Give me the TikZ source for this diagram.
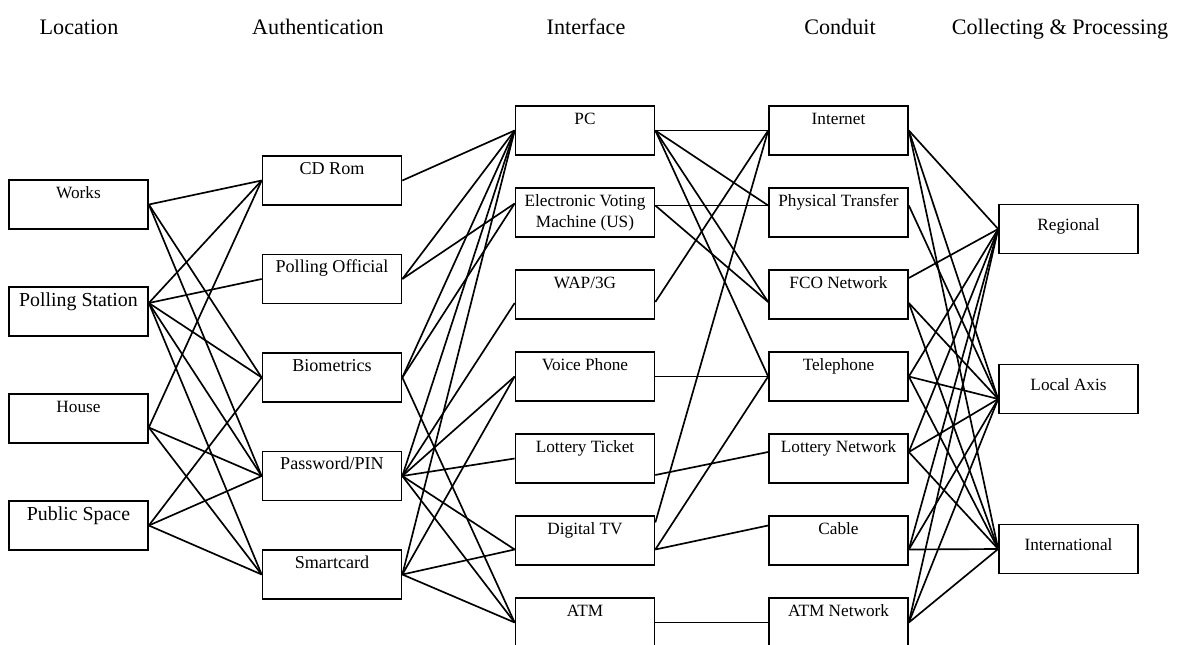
\documentclass[tikz,border=0pt]{standalone}
\usepackage{fontspec}
\setmainfont{Liberation Serif}
\usepackage{tikz}
\usetikzlibrary{positioning}

\begin{document}
\begin{tikzpicture}[-,node distance=1.64cm,line width=0.95pt]
  \tikzstyle{box}=[draw,rectangle,minimum width=2.78cm,minimum height=0.98cm,inner sep=0pt,align=center,text height=0.36cm,text depth=0.62cm,font=\fontsize{9.8}{12}\selectfont]
  \tikzstyle{big}=[font=\fontsize{11.3}{13.5}\selectfont,text height=0.38cm,text depth=0.60cm]
  \tikzstyle{low}=[text height=0.52cm,text depth=0.46cm]
  \tikzstyle{two}=[text height=0.79cm,text depth=0.19cm]
  \tikzstyle{head}=[anchor=base,font=\fontsize{12.6}{15}\selectfont]

  \useasboundingbox (0,0) rectangle (23.66,-12.9);

  \node[head] (HLoc) at (1.58,-0.69) {Location};
  \node[head] (HAuth) at (6.36,-0.69) {Authentication};
  \node[head] (HInt) at (11.72,-0.69) {Interface};
  \node[head] (HCon) at (16.8,-0.69) {Conduit};
  \node[head] (HCol) at (21.2,-0.69) {Collecting \& Processing};

  % location
  \begin{scope}[node distance=2.14cm]
  \node[box] (Works) at (1.57,-4.09) {Works};
  \node[box,big] (Station) [below of=Works] {Polling Station};
  \node[box] (House) [below of=Station] {House};
  \node[box,big] (Public) [below of=House] {Public Space};
  \end{scope}

  % authentication
  \begin{scope}[node distance=1.97cm]
  \node[box,font=\fontsize{10.3}{12.5}\selectfont] (CD) at (6.64,-3.61) {CD Rom};
  \node[box,font=\fontsize{10.3}{12.5}\selectfont] (Official) [below of=CD] {Polling Official};
  \node[box,font=\fontsize{10.3}{12.5}\selectfont] (Bio) [below of=Official] {Biometrics};
  \node[box,font=\fontsize{10.3}{12.5}\selectfont] (PIN) [below of=Bio] {Password/PIN};
  \node[box,font=\fontsize{10.3}{12.5}\selectfont] (Smart) [below of=PIN] {Smartcard};
  \end{scope}

  % interface
  \node[box] (PC) at (11.7,-2.61) {PC};
  \node[box,two] (EVM) [below of=PC] {Electronic Voting\\Machine (US)};
  \node[box] (WAP) [below of=EVM] {WAP/3G};
  \node[box] (Voice) [below of=WAP] {Voice Phone};
  \node[box] (Ticket) [below of=Voice] {Lottery Ticket};
  \node[box] (TV) [below of=Ticket] {Digital TV};
  \node[box] (ATM) [below of=TV] {ATM};

  % conduit
  \node[box] (Internet) at (16.77,-2.61) {Internet};
  \node[box] (Transfer) [below of=Internet] {Physical Transfer};
  \node[box] (FCO) [below of=Transfer] {FCO Network};
  \node[box] (Phone) [below of=FCO] {Telephone};
  \node[box] (LotNet) [below of=Phone] {Lottery Network};
  \node[box] (Cable) [below of=LotNet] {Cable};
  \node[box] (ATMNet) [below of=Cable] {ATM Network};

  % collecting & processing
  \begin{scope}[node distance=3.2cm]
  \node[box,low] (Regional) at (21.37,-4.58) {Regional};
  \node[box,low] (Local) [below of=Regional] {Local Axis};
  \node[box,low] (Intl) [below of=Local] {International};
  \end{scope}

  \path (Works.east) edge (CD.west);
  \path (Works.east) edge (Bio.west);
  \path (Works.east) edge (PIN.west);
  \path ([yshift=0.17cm]Station.east) edge (CD.west);
  \path ([yshift=0.17cm]Station.east) edge (Official.west);
  \path ([yshift=0.17cm]Station.east) edge (Bio.west);
  \path ([yshift=0.17cm]Station.east) edge (PIN.west);
  \path ([yshift=0.17cm]Station.east) edge (Smart.west);
  \path ([yshift=-0.18cm]House.east) edge (CD.west);
  \path ([yshift=-0.18cm]House.east) edge (PIN.west);
  \path ([yshift=-0.18cm]House.east) edge (Smart.west);
  \path (Public.east) edge (Bio.west);
  \path (Public.east) edge (PIN.west);
  \path (Public.east) edge (Smart.west);

  \path (CD.east) edge (PC.west);
  \path (Official.east) edge (PC.west);
  \path (Official.east) edge ([yshift=0.18cm]EVM.west);
  \path (Bio.east) edge (PC.west);
  \path (Bio.east) edge ([yshift=0.18cm]EVM.west);
  \path (Bio.east) edge (ATM.west);
  \path (PIN.east) edge (PC.west);
  \path (PIN.east) edge ([yshift=-0.17cm]WAP.west);
  \path (PIN.east) edge (Voice.west);
  \path (PIN.east) edge (Ticket.west);
  \path (PIN.east) edge ([yshift=-0.18cm]TV.west);
  \path (PIN.east) edge (ATM.west);
  \path (Smart.east) edge (PC.west);
  \path (Smart.east) edge (Voice.west);
  \path (Smart.east) edge ([yshift=-0.18cm]TV.west);
  \path (Smart.east) edge (ATM.west);

  \path (PC.east) edge (Internet.west);
  \path (PC.east) edge ([yshift=0.14cm]Transfer.west);
  \path (PC.east) edge ([yshift=-0.15cm]FCO.west);
  \path (PC.east) edge (Phone.west);
  \path ([yshift=0.14cm]EVM.east) edge ([yshift=0.14cm]Transfer.west);
  \path ([yshift=0.14cm]EVM.east) edge ([yshift=-0.15cm]FCO.west);
  \path ([yshift=-0.15cm]WAP.east) edge (Internet.west);
  \path (Voice.east) edge (Phone.west);
  \path ([yshift=-0.33cm]Ticket.east) edge ([yshift=0.13cm]LotNet.west);
  \path ([yshift=0.36cm]TV.east) edge (Internet.west);
  \path ([yshift=-0.18cm]TV.east) edge (Phone.west);
  \path ([yshift=-0.18cm]TV.east) edge ([yshift=0.3cm]Cable.west);
  \path (ATM.east) edge (ATMNet.west);

  \path (Internet.east) edge (Regional.west);
  \path (Internet.east) edge ([yshift=-0.2cm]Local.west);
  \path (Internet.east) edge (Intl.west);
  \path ([yshift=0.14cm]Transfer.east) edge ([yshift=-0.2cm]Local.west);
  \path ([yshift=0.33cm]FCO.east) edge (Regional.west);
  \path ([yshift=-0.17cm]FCO.east) edge ([yshift=-0.2cm]Local.west);
  \path ([yshift=-0.17cm]FCO.east) edge (Intl.west);
  \path (Phone.east) edge (Regional.west);
  \path (Phone.east) edge ([yshift=-0.2cm]Local.west);
  \path (Phone.east) edge (Intl.west);
  \path ([yshift=0.13cm]LotNet.east) edge (Regional.west);
  \path ([yshift=0.13cm]LotNet.east) edge ([yshift=-0.2cm]Local.west);
  \path ([yshift=0.13cm]LotNet.east) edge (Intl.west);
  \path ([yshift=-0.18cm]Cable.east) edge (Regional.west);
  \path ([yshift=-0.18cm]Cable.east) edge ([yshift=-0.2cm]Local.west);
  \path ([yshift=-0.18cm]Cable.east) edge (Intl.west);
  \path (ATMNet.east) edge (Regional.west);
  \path (ATMNet.east) edge ([yshift=-0.2cm]Local.west);
  \path (ATMNet.east) edge (Intl.west);

\end{tikzpicture}
\end{document}
